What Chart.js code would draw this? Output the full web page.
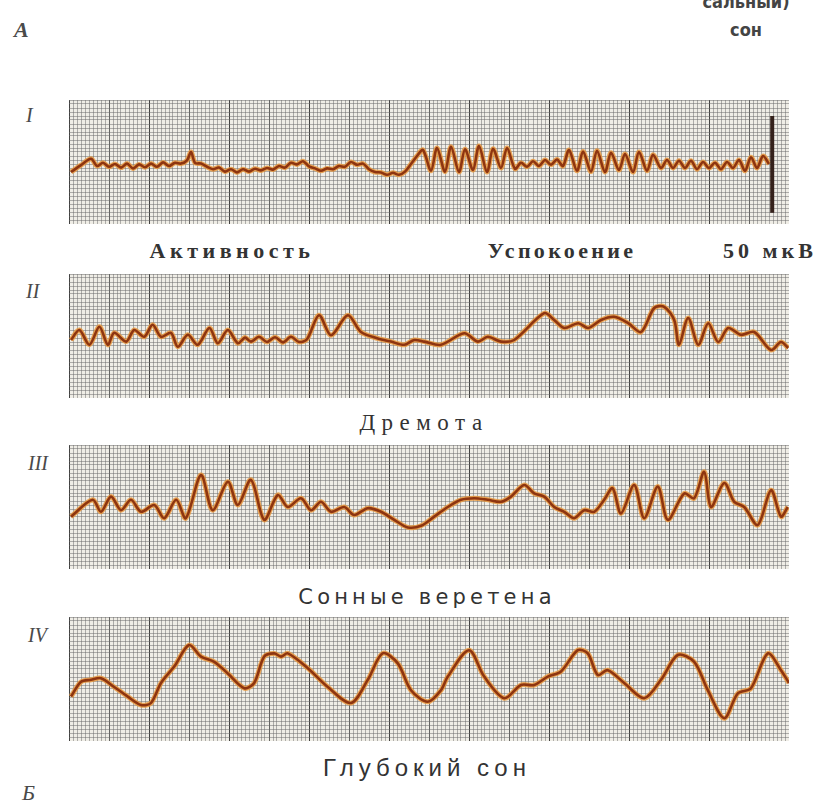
<!DOCTYPE html>
<html>
<head>
<meta charset="utf-8">
<script src="https://cdn.jsdelivr.net/npm/chart.js@4.4.1/dist/chart.umd.min.js"></script>
<style>
  body { margin: 0; background: #fff; width: 820px; height: 801px; overflow: hidden; position: relative; }
  .panel { position: absolute; left: 69px; width: 720px; height: 124px; }
  .t { position: absolute; line-height: 1; color: #333; white-space: nowrap; }
  .c { transform: translateX(-50%); }
  .num { font: italic 20px "Liberation Serif"; color: #4a4a4a; }
</style>
</head>
<body>
<div class="t num" style="left:14px;top:17px;font-size:22px;font-weight:bold">A</div>
<div class="t c" style="left:746px;top:-9px;font:bold 18px 'DejaVu Sans Condensed','DejaVu Sans';color:#444">сальный)</div>
<div class="t c" style="left:746px;top:19px;font:bold 18px 'DejaVu Sans Condensed','DejaVu Sans';color:#444">сон</div>

<div class="t num" style="left:26px;top:104px">I</div>
<div class="t num" style="left:26px;top:280px">II</div>
<div class="t num" style="left:28px;top:452px">III</div>
<div class="t num" style="left:28px;top:624px">IV</div>
<div class="t num" style="left:22px;top:780px;font-size:22px">Б</div>

<div class="t c" style="left:232px;top:238px;font:bold 22px 'Liberation Serif';letter-spacing:4.5px">Активность</div>
<div class="t c" style="left:562px;top:238px;font:bold 22px 'Liberation Serif';letter-spacing:3.3px">Успокоение</div>
<div class="t c" style="left:770px;top:238px;font:bold 22px 'Liberation Serif';letter-spacing:4px">50 мкВ</div>
<div class="t c" style="left:424px;top:410px;font:23px 'Liberation Serif';letter-spacing:6.5px">Дремота</div>
<div class="t c" style="left:427px;top:585px;font:21px 'DejaVu Sans';letter-spacing:4.2px">Сонные веретена</div>
<div class="t c" style="left:427px;top:754px;font:24px 'Liberation Sans';letter-spacing:5px">Глубокий сон</div>

<div class="panel" style="top:100px"><canvas id="eeg1" width="720" height="124"></canvas></div>
<div class="panel" style="top:274px"><canvas id="eeg2" width="720" height="124"></canvas></div>
<div class="panel" style="top:445px"><canvas id="eeg3" width="720" height="124"></canvas></div>
<div class="panel" style="top:617px"><canvas id="eeg4" width="720" height="124"></canvas></div>

<script>
// x = small grid cells along the tape, y = small grid cells up from the lower major line
// I - активность / успокоение
const trace1 = [[0.5,12.5],[3,14.2],[5.5,15.8],[7,14],[8.5,14.8],[10,13.8],[11.5,14.5],[13,13.6],[14.5,14.6],[16,13.4],
  [17.5,14.4],[19,13.7],[20.5,14.6],[22,13.8],[23.5,14.9],[25,14],[26.5,14.8],[28,14.6],[29.5,15.4],[30.5,17.5],
  [31.5,14.8],[33,14.6],[34.5,13.8],[36,13.2],[37.5,13.6],[39,12.6],[40.5,13.2],[42,12.4],[43.5,13.2],[45,12.6],
  [46.5,13.3],[48,12.9],[49.5,13.5],[51,13.1],[52.5,14],[54,13.6],[55.5,14.8],[57,14.4],[58.5,15.2],[60,13.9],
  [61.5,13.4],[63,12.8],[64.5,13.4],[66,13.2],[67.5,14],[69,13.8],[70.5,15],[72,14.3],[73.5,14.6],[75,13.2],
  [76.5,12.5],[78,12.4],[79.5,11.8],[81,12.3],[82.5,11.8],[84,12.6],[85.5,14.5],[87,16.5],[88.5,18],[90.5,12.8],
  [92,18.5],[94,12.6],[95.5,18.8],[97.5,12.5],[99,18.2],[101,13],[102.5,19],[104.5,12.5],[106,18.3],[108,13.5],
  [109.5,18.5],[111.5,13.3],[113,14.8],[114.5,13.8],[116,15.2],[117.5,14],[119,15.5],[120.5,14.3],[122,15.6],[123.5,14],
  [125,18],[127,12.8],[128.5,17.6],[130.5,12.6],[132,17.8],[134,12.5],[135.5,17.3],[137.5,13],[139,17],[141,12.5],
  [142.5,17.5],[144.5,12.8],[146,16.8],[148,13.5],[149.5,15.5],[151,13.5],[152.5,15.3],[154,13.5],[155.5,15.3],[157,13.2],
  [158.5,15],[160,13.5],[161.5,14.8],[163,13.2],[164.5,15],[166,13.5],[167.5,15.5],[169,12.8],[170.5,16.2],[172,13.5],
  [173.5,16.5],[175,14.5]];
// calibration mark 50 мкВ
const calib = [[175.8,2.3],[175.8,26.5]];

// II - дремота
const trace2 = [[0.5,14],[2.6,16.5],[5.1,12.8],[7.6,17.3],[9.7,12.8],[11.3,15.8],[14.3,13.6],[16.3,16.5],[18.8,14.8],[20.9,17.8],
  [23,14.8],[25.5,15.8],[27.2,12.3],[29.7,15.3],[32.2,12.8],[35.1,17],[37.2,13.2],[39.7,16.5],[42.2,13.2],[44,14.6],
  [45.5,13.6],[47.5,14.8],[49.5,13.5],[51.5,14.7],[53.5,13.4],[55.5,14.8],[57.5,13.5],[59.5,14.2],[62.5,20.2],[65.5,15.2],
  [69.7,20.2],[73,16],[77.2,14.4],[80.5,13.6],[83.8,12.8],[86.3,14],[88.8,13.6],[93,12.8],[98.8,15.7],[102.2,13.6],
  [104.7,14.8],[108,13.6],[111.3,14],[118.8,20.7],[121.3,19],[123.8,17],[127.3,18.2],[129.8,17],[133,19],[136.3,19.8],
  [139.8,18.2],[143,16],[146.3,22],[148.8,22.3],[151.3,19],[152.5,12.8],[154.8,19.5],[157.3,12.8],[159.8,18.2],[162.3,13.5],
  [164.8,17],[168,15.3],[171.3,16],[175.5,11.5],[178,13.5],[179.8,12]];

// III - сонные веретена
const trace3 = [[0.5,12.6],[5.9,16.8],[8,13.8],[10.5,17.6],[13,14.2],[15.5,16.8],[18,13.8],[21.3,15.5],[23.8,12.2],[26.8,16.8],
  [29.2,12.2],[33,23],[35.9,14.2],[39.7,21.3],[42.2,15.5],[45.5,21.8],[48.8,11.8],[52.2,18],[54.7,15],[58,17.2],
  [60.5,14.2],[63,16.3],[65.5,13.8],[68.8,15],[71.3,13],[74.7,14.7],[78,13.8],[81.3,11.8],[84.7,9.9],[88,10.3],
  [91.3,12.6],[94.7,15],[98,16.8],[101.3,17.2],[104.7,16.8],[108,16.3],[110.5,17.6],[113.8,20.5],[116.3,18.4],[118.8,17.6],
  [121.3,15],[123.8,13.8],[126.3,12.2],[128.8,14.2],[131.3,13.8],[133.8,16.8],[135.9,19.7],[138,13.4],[141.3,20.5],[143.8,12.2],
  [147.2,20.1],[149.7,11.8],[153.8,18.4],[156.3,17.2],[158.8,23.8],[160.5,15],[163.8,21],[166.3,16.3],[168.8,15],[172.2,10.5],
  [175.5,19.2],[178,12.6],[179.7,15]];

// IV - глубокий сон
const trace4 = [[0.5,10.6],[3,14.3],[5.5,14.8],[8,15.2],[11.3,13],[14.7,10.6],[18,8.5],[20.5,9],[23,14],[26.3,18.1],
  [30,23.5],[33,20.6],[36.3,19.3],[39.7,16.4],[43.8,12.7],[46.3,14],[48.8,20.6],[51.3,21.4],[53,20.6],[54.7,21.4],
  [59.7,17.7],[64.7,13],[70.5,9],[74.7,14.8],[78.4,21.4],[82.2,18.9],[85.5,12.2],[89.7,9.3],[93,12.2],[94.7,15.6],
  [100,22.2],[103.8,15.6],[108.8,10.2],[113,13.5],[116.3,13.5],[119.7,15.6],[123,16.9],[127.2,22.2],[129.7,21.4],[132.2,16],
  [134.7,17.2],[138.8,14],[143.8,10.2],[148,14.8],[152.2,21],[156.3,19.3],[159.7,12.2],[163.8,5.2],[167.2,11.4],[170.5,12.7],
  [174.7,21.4],[178,17.2],[180,14]];

const paper = {
  id: 'paper',
  beforeDraw(chart) {
    const { ctx, chartArea: a } = chart;
    ctx.save();
    ctx.fillStyle = '#efede6';
    ctx.fillRect(a.left, a.top, a.right - a.left, a.bottom - a.top);
    ctx.restore();
  }
};

function gridColor(c) {
  const v = c.tick ? c.tick.value : 0;
  if (v % 20 === 0) return 'rgba(35,35,35,0.85)';
  if (v % 10 === 0) return 'rgba(55,55,55,0.75)';
  return 'rgba(105,105,105,0.5)';
}

function pts(arr) {
  return arr.map(p => ({ x: p[0], y: p[1] }));
}

function eeg(id, trace, extra) {
  // first dataset is drawn on top
  const sets = [];
  if (extra) sets.push({ data: pts(extra), borderColor: '#35211a', borderWidth: 4, tension: 0 });
  sets.push({ data: pts(trace), borderColor: '#8e3510', borderWidth: 2.6, tension: 0.3 });
  sets.push({ data: pts(trace), borderColor: 'rgba(232,150,60,0.85)', borderWidth: 5, tension: 0.3 });
  new Chart(document.getElementById(id), {
    type: 'line',
    data: { datasets: sets },
    options: {
      responsive: false,
      animation: false,
      devicePixelRatio: 1,
      layout: { padding: 0 },
      elements: { point: { radius: 0 } },
      plugins: { legend: { display: false }, tooltip: { enabled: false } },
      scales: {
        x: {
          type: 'linear', min: 0, max: 180,
          ticks: { display: false, stepSize: 1, autoSkip: false },
          grid: { color: gridColor, drawTicks: false },
          border: { display: false }
        },
        y: {
          min: -0.5, max: 30.5,
          ticks: { display: false, stepSize: 1, autoSkip: false },
          grid: { color: gridColor, drawTicks: false },
          border: { display: false }
        }
      }
    },
    plugins: [paper]
  });
}

eeg('eeg1', trace1, calib);
eeg('eeg2', trace2);
eeg('eeg3', trace3);
eeg('eeg4', trace4);
</script>
</body>
</html>
